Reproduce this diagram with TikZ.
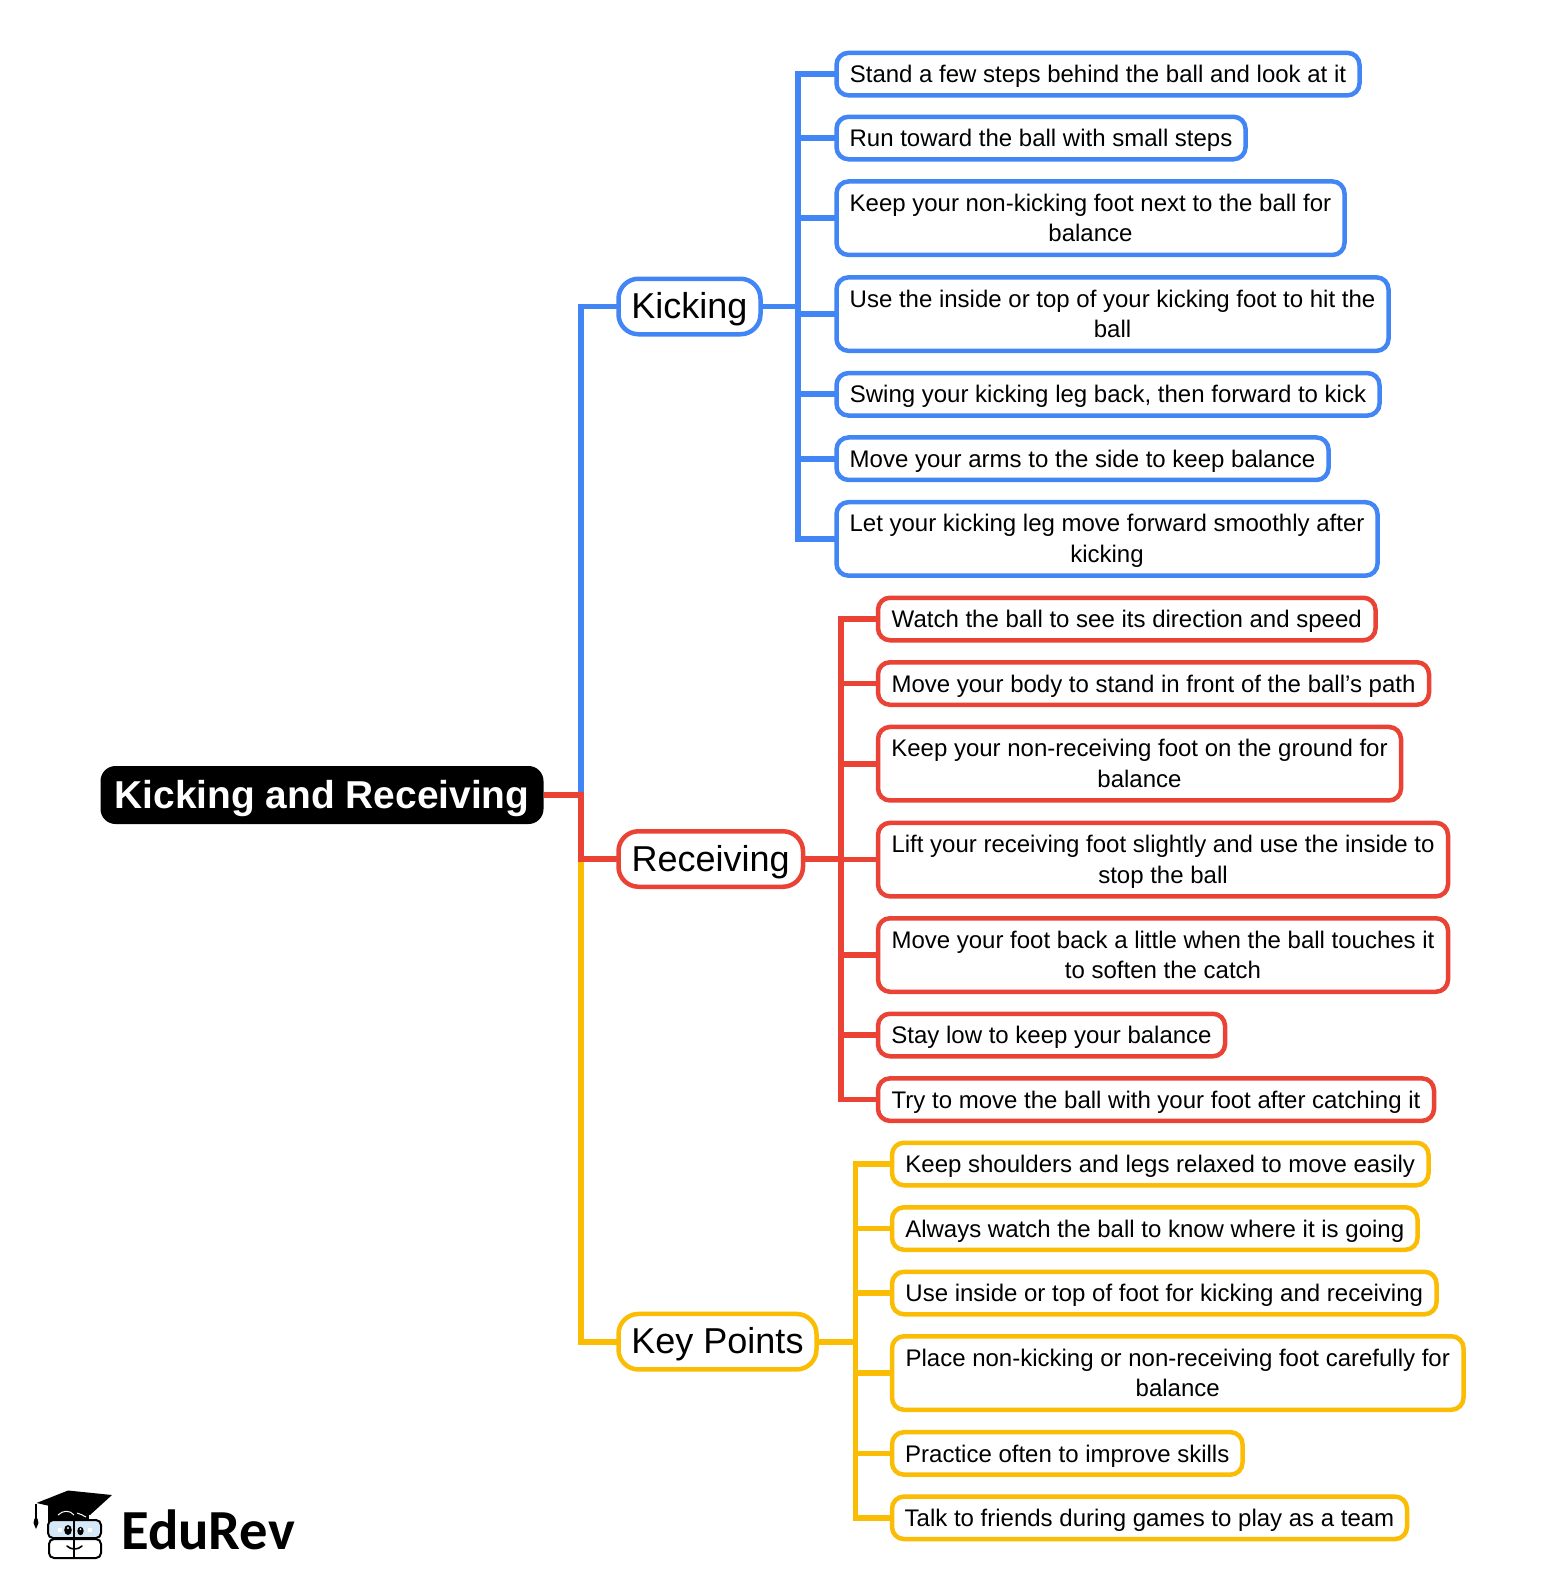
\documentclass[tikz,border=0pt]{standalone}
\usepackage{fontspec}
\setmainfont{Liberation Sans}
\newfontfamily\logofont{Carlito}
\definecolor{cblue}{HTML}{4285F4}
\definecolor{cred}{HTML}{EA4335}
\definecolor{cyel}{HTML}{FBBC04}
\definecolor{glass}{HTML}{D4E8F7}
\tikzset{
 leaf/.style={draw=#1,line width=4.5pt,fill=white,rounded corners=12pt,anchor=west,outer sep=0pt,inner sep=0pt,align=center,minimum height=42.5pt,text height=21pt,text depth=3.8pt,font=\fontsize{24}{30.5}\selectfont},
 dleaf/.style={leaf=#1,minimum height=73.5pt,text height=50.8pt},
 branch/.style={draw=#1,line width=4.5pt,fill=white,rounded corners=20pt,anchor=west,outer sep=0pt,inner sep=0pt,minimum height=55.5pt,text height=27pt,text depth=2.6pt,font=\fontsize{36}{44}\selectfont},
 rootnode/.style={fill=black,text=white,rounded corners=15pt,anchor=west,outer sep=0pt,inner sep=0pt,minimum width=443pt,minimum height=58pt,text height=28pt,text depth=2pt,font=\fontsize{38.9}{46}\selectfont\bfseries},
 link/.style={draw=#1,line width=5.7pt,line cap=butt,line join=miter},
 logoline/.style={draw=black,line width=2pt,line cap=round},
}
\begin{document}
\begin{tikzpicture}[x=1pt,y=-1pt]
\useasboundingbox[fill=white] (0,0) rectangle (1566,1591);
% hubs
\coordinate (trunk) at (580.7,795);
\coordinate (ks) at (798.3,0);
\coordinate (rs) at (840.7,0);
\coordinate (ys) at (855.5,0);
% nodes
\node[rootnode] (root) at (100.5,795) {Kicking and Receiving};
\node[branch=cblue,minimum width=142pt] (kick) at (618.5,306.5) {Kicking};
\node[branch=cred,minimum width=184.5pt] (recv) at (618.5,859) {Receiving};
\node[branch=cyel,minimum width=198pt] (key) at (618.5,1341.7) {Key Points};
% connectors
\draw[link=cyel] (trunk) |- (key.west);
\draw[link=cblue] (trunk) |- (kick.west);
\draw[link=cred] (root.east) -- (trunk) |- (recv.west);
%
\node[leaf=cblue,minimum width=523pt] (k1) at (836.5,74.1) {Stand a few steps behind the ball and look at it};
\node[leaf=cblue,minimum width=409pt] (k2) at (836.5,138) {Run toward the ball with small steps};
\node[dleaf=cblue,minimum width=508pt] (k3) at (836.5,218.2) {Keep your non-kicking foot next to the ball for\\balance};
\node[dleaf=cblue,minimum width=552pt] (k4) at (836.5,314.1) {Use the inside or top of your kicking foot to hit the\\ball};
\node[leaf=cblue,minimum width=543pt] (k5) at (836.5,394.3) {Swing your kicking leg back, then forward to kick};
\node[leaf=cblue,minimum width=492pt] (k6) at (836.5,458.7) {Move your arms to the side to keep balance};
\node[dleaf=cblue,minimum width=541pt] (k7) at (836.5,538.9) {Let your kicking leg move forward smoothly after\\kicking};
%
\node[leaf=cred,minimum width=497.5pt] (r1) at (878,619) {Watch the ball to see its direction and speed};
\node[leaf=cred,minimum width=551pt] (r2) at (878,683.5) {Move your body to stand in front of the ball's path};
\node[dleaf=cred,minimum width=523pt] (r3) at (878,763.7) {Keep your non-receiving foot on the ground for\\balance};
\node[dleaf=cred,minimum width=570pt] (r4) at (878,859.6) {Lift your receiving foot slightly and use the inside to\\stop the ball};
\node[dleaf=cred,minimum width=570pt] (r5) at (878,955) {Move your foot back a little when the ball touches it\\to soften the catch};
\node[leaf=cred,minimum width=347pt] (r6) at (878,1035) {Stay low to keep your balance};
\node[leaf=cred,minimum width=556pt] (r7) at (878,1099.6) {Try to move the ball with your foot after catching it};
%
\node[leaf=cyel,minimum width=536.5pt] (y1) at (892,1164) {Keep shoulders and legs relaxed to move easily};
\node[leaf=cyel,minimum width=525.5pt] (y2) at (892,1228.5) {Always watch the ball to know where it is going};
\node[leaf=cyel,minimum width=544.5pt] (y3) at (892,1293) {Use inside or top of foot for kicking and receiving};
\node[dleaf=cyel,minimum width=571.5pt] (y4) at (892,1373) {Place non-kicking or non-receiving foot carefully for\\balance};
\node[leaf=cyel,minimum width=350.5pt] (y5) at (892,1453.4) {Practice often to improve skills};
\node[leaf=cyel,minimum width=515pt] (y6) at (892,1517.8) {Talk to friends during games to play as a team};
%
\foreach \n in {k2,k3,k4,k5,k6} \draw[link=cblue] (ks|-\n.west) -- (\n.west);
\draw[link=cblue] (kick.east) -- (ks|-kick.east);
\draw[link=cblue] (k1.west) -- (ks|-k1.west) -- (ks|-k7.west) -- (k7.west);
\foreach \n in {r2,r3,r4,r5,r6} \draw[link=cred] (rs|-\n.west) -- (\n.west);
\draw[link=cred] (recv.east) -- (rs|-recv.east);
\draw[link=cred] (r1.west) -- (rs|-r1.west) -- (rs|-r7.west) -- (r7.west);
\foreach \n in {y2,y3,y4,y5} \draw[link=cyel] (ys|-\n.west) -- (\n.west);
\draw[link=cyel] (key.east) -- (ys|-key.east);
\draw[link=cyel] (y1.west) -- (ys|-y1.west) -- (ys|-y6.west) -- (y6.west);
% logo
\fill (48,1504) rectangle (89,1522);
\fill (36.5,1503) -- (68,1490.5) -- (112,1495) -- (90,1515) -- cycle;
\draw[draw=white,line width=1pt] (58,1515) .. controls (63,1510) and (70,1510) .. (74,1515);
\draw[draw=white,line width=1pt] (77,1513) .. controls (80,1514) and (83,1515) .. (86,1517);
\draw[black,line width=1.5pt] (36,1504) -- (36,1519);
\fill (36,1529) -- (33.5,1523) -- (34.5,1518.5) -- (37.5,1518.5) -- (38.5,1523) -- cycle;
\draw[logoline,fill=glass,rounded corners=5pt] (48,1520) rectangle (101,1538);
\draw[logoline,rounded corners=5pt] (49,1539) rectangle (101,1558);
\draw[black,line width=2pt] (74,1516) -- (74,1558);
\fill (68,1530) ellipse (3.8 and 5);
\fill (80.5,1531) ellipse (3.2 and 4.2);
\fill[white] (68,1528) circle (1.2);
\fill[white] (80.5,1529) circle (1);
\fill[white] (58,1528) rectangle (62,1532);
\fill[white] (88,1528) rectangle (92,1532);
\draw[black,line width=1.6pt,line cap=round] (67,1546) .. controls (71,1550) and (78,1550) .. (82,1546);
\node[anchor=west,inner sep=0pt,font=\fontsize{56.6}{60}\logofont\bfseries] (brand) at (121,1530) {EduRev};
\end{tikzpicture}
\end{document}
